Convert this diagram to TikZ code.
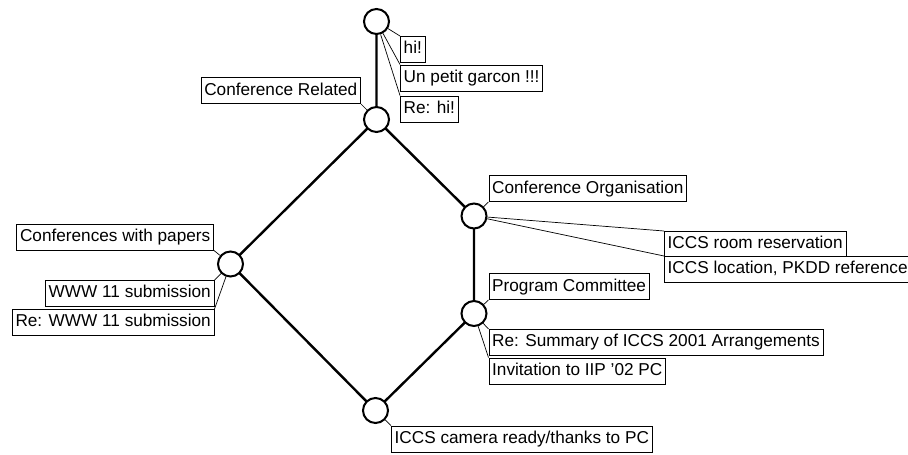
\documentclass[tikz,border=0pt]{standalone}
\usepackage{fontspec}
\setmainfont{Liberation Sans}
\begin{document}
\begin{tikzpicture}[x=1pt,y=-1pt,
  concept/.style={circle,draw=black,fill=white,line width=2pt,minimum size=25pt,inner sep=0pt},
  lbl/.style={draw=black,fill=white,line width=0.8pt,font=\fontsize{17.2}{20}\selectfont,
    inner xsep=3.3pt,inner ysep=5pt,text height=12.5pt,text depth=3.5pt},
  edge/.style={line width=2.4pt},
  lead/.style={line width=0.7pt}]
\useasboundingbox (0,0) rectangle (908,455);
% edges
\coordinate (cT) at (376.5,21.5);
\coordinate (cR) at (376.5,119.5);
\coordinate (cO) at (474,216);
\coordinate (cL) at (230.5,264);
\coordinate (cP) at (474,313.5);
\coordinate (cB) at (375.5,410.5);
\draw[edge] (cT) -- (cR) -- (cO) -- (cP) -- (cB) -- (cL) -- (cR);
% concepts
\node[concept] (top) at (cT) {};
\node[concept] (rel) at (cR) {};
\node[concept] (org) at (cO) {};
\node[concept] (pap) at (cL) {};
\node[concept] (pc) at (cP) {};
\node[concept] (bot) at (cB) {};
% attribute labels
\node[lbl,anchor=south east] (aRel) at (361,104) {Conference Related};
\node[lbl,anchor=south west] (aOrg) at (488.5,202) {Conference Organisation};
\node[lbl,anchor=south east] (aPap) at (214,250.5) {Conferences with papers};
\node[lbl,anchor=south west] (aPc) at (488.5,300) {Program Committee};
\draw[lead] (aRel.south east) -- (rel);
\draw[lead] (aOrg.south west) -- (org);
\draw[lead] (aPap.south east) -- (pap);
\draw[lead] (aPc.south west) -- (pc);
% object labels
\node[lbl,anchor=north west] (o1) at (400,36) {hi!};
\node[lbl,anchor=north west] (o2) at (400,64.5) {Un petit garcon !!!};
\node[lbl,anchor=north west] (o3) at (400,95.5) {Re: hi!};
\draw[lead] (o1.north west) -- (top);
\draw[lead] (o2.north west) -- (top);
\draw[lead] (o3.north west) -- (top);
\node[lbl,anchor=north west] (o4) at (664,231) {ICCS room reservation};
\node[lbl,anchor=north west] (o5) at (664,256) {ICCS location, PKDD reference};
\draw[lead] (o4.north west) -- (org);
\draw[lead] (o5.north west) -- (org);
\node[lbl,anchor=north east] (o6) at (214.5,280) {WWW 11 submission};
\node[lbl,anchor=north east] (o7) at (214.5,309) {Re: WWW 11 submission};
\draw[lead] (o6.north east) -- (pap);
\draw[lead] (o7.north east) -- (pap);
\node[lbl,anchor=north west] (o8) at (488.5,329) {Re: Summary of ICCS 2001 Arrangements};
\node[lbl,anchor=north west] (o9) at (488.5,357.5) {Invitation to IIP '02 PC};
\draw[lead] (o8.north west) -- (pc);
\draw[lead] (o9.north west) -- (pc);
\node[lbl,anchor=north west] (o10) at (391,425.5) {ICCS camera ready/thanks to PC};
\draw[lead] (o10.north west) -- (bot);
\end{tikzpicture}
\end{document}
